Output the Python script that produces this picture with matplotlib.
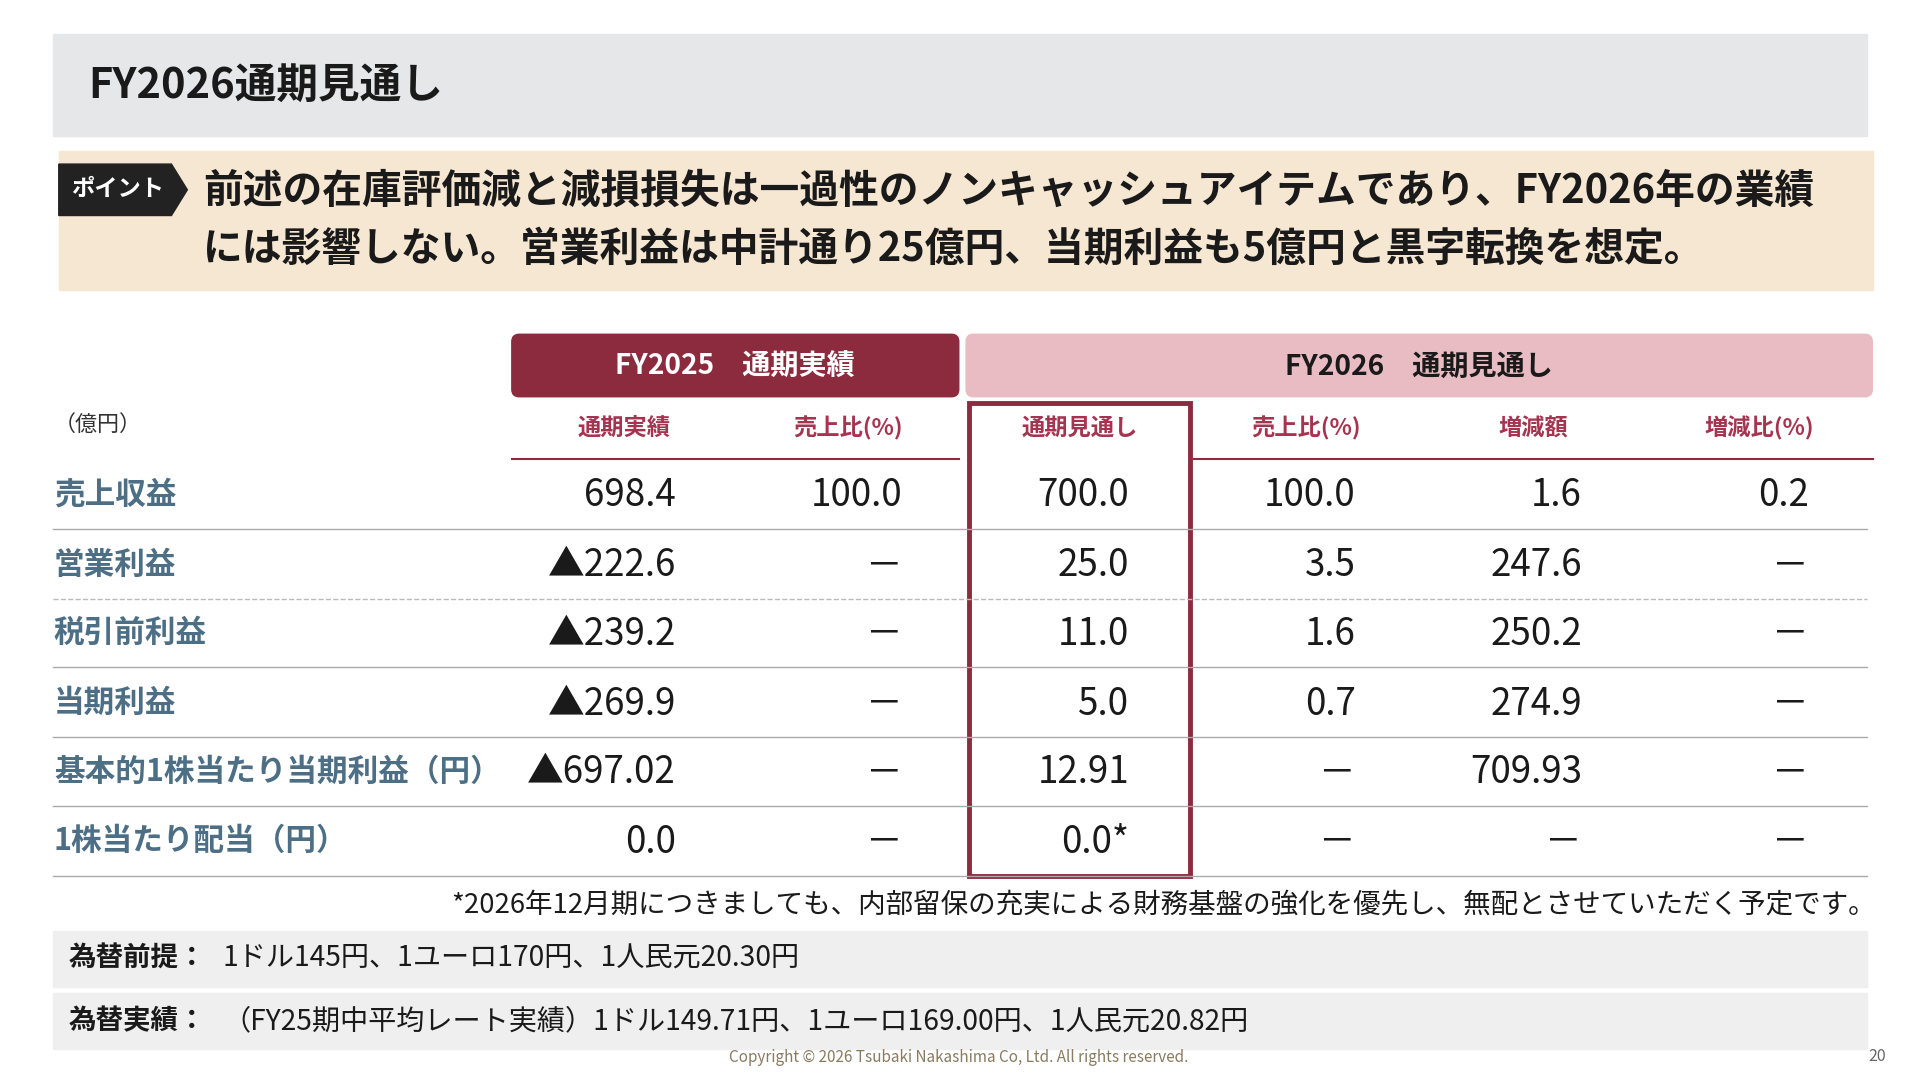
import matplotlib
matplotlib.use("Agg")
import matplotlib.pyplot as plt
from matplotlib.patches import Rectangle, FancyBboxPatch, Polygon

plt.rcParams['font.family'] = ['Noto Sans CJK JP', 'DejaVu Sans']

title = "FY2026通期見通し"
point_lines = ["前述の在庫評価減と減損損失は一過性のノンキャッシュアイテムであり、FY2026年の業績",
               "には影響しない。営業利益は中計通り25億円、当期利益も5億円と黒字転換を想定。"]
group_headers = ["FY2025　通期実績", "FY2026　通期見通し"]
sub_headers = ["通期実績", "売上比(%)", "通期見通し", "売上比(%)", "増減額", "増減比(%)"]
row_labels = ["売上収益", "営業利益", "税引前利益", "当期利益", "基本的1株当たり当期利益（円）", "1株当たり配当（円）"]
fy25_actual = ["698.4", "▲222.6", "▲239.2", "▲269.9", "▲697.02", "0.0"]
fy25_ratio = ["100.0", "－", "－", "－", "－", "－"]
fy26_plan = ["700.0", "25.0", "11.0", "5.0", "12.91", "0.0*"]
fy26_ratio = ["100.0", "3.5", "1.6", "0.7", "－", "－"]
change_amt = ["1.6", "247.6", "250.2", "274.9", "709.93", "－"]
change_pct = ["0.2", "－", "－", "－", "－", "－"]
footnote = "*2026年12月期につきましても、内部留保の充実による財務基盤の強化を優先し、無配とさせていただく予定です。"
fx1 = ("為替前提：", "1ドル145円、1ユーロ170円、1人民元20.30円")
fx2 = ("為替実績：", "（FY25期中平均レート実績）1ドル149.71円、1ユーロ169.00円、1人民元20.82円")
copyright_txt = "Copyright © 2026 Tsubaki Nakashima Co, Ltd. All rights reserved."
page_no = "20"

W, H = 1568, 882
fig = plt.figure(figsize=(19.2, 10.8), dpi=100)
ax = fig.add_axes([0, 0, 1, 1])
ax.set_xlim(0, W); ax.set_ylim(H, 0); ax.axis('off')
S = 1920 / W * 0.72
def fs(px): return px * S

DARK = "#8C2A3E"; PINK = "#E8BCC2"; TEAL = "#4D6F86"; RED = "#A63450"; TXT = "#1a1a1a"

ax.add_patch(Rectangle((43, 28), 1482, 83, color="#E6E7E8"))
ax.text(72, 70, title, fontsize=fs(34), va='center', color=TXT, fontweight='bold')

ax.add_patch(Rectangle((48, 123), 1482, 114, color="#F6E7D2"))
ax.add_patch(Polygon([(48, 134), (140, 134), (153, 155), (140, 176), (48, 176)], color="#222222"))
ax.text(96, 155, "ポイント", fontsize=fs(19), color="white", va='center', ha='center', fontweight='bold')
ax.text(166, 156, point_lines[0], fontsize=fs(32.5), va='center', color=TXT, fontweight='bold')
ax.text(166, 204, point_lines[1], fontsize=fs(32.5), va='center', color=TXT, fontweight='bold')

ax.add_patch(FancyBboxPatch((418, 273), 365, 51, boxstyle="round,pad=0,rounding_size=6", color=DARK))
ax.add_patch(FancyBboxPatch((789, 273), 740, 51, boxstyle="round,pad=0,rounding_size=6", color=PINK))
ax.text(600, 300, group_headers[0], fontsize=fs(23), ha='center', va='center', color='white', fontweight='bold')
ax.text(1159, 300, group_headers[1], fontsize=fs(23), ha='center', va='center', color=TXT, fontweight='bold')

ax.text(44, 347, "（億円）", fontsize=fs(18), va='center', color="#333333")
sub_x = [510, 693, 882, 1067, 1252, 1437]
for x, s in zip(sub_x, sub_headers):
    ax.text(x, 350, s, fontsize=fs(19), ha='center', va='center', color=RED, fontweight='bold')
ax.plot([418, 783], [375, 375], color=DARK, lw=1.5)
ax.plot([975, 1530], [375, 375], color=DARK, lw=1.5)

row_y = [404, 461, 517, 574, 630, 687]
right_x = [552, 737, 922, 1107, 1292, 1477]
cols = [fy25_actual, fy25_ratio, fy26_plan, fy26_ratio, change_amt, change_pct]
for i, y in enumerate(row_y):
    ax.text(44, y, row_labels[i], fontsize=fs(25), va='center', color=TEAL, fontweight='bold')
    for x, c in zip(right_x, cols):
        ax.text(x, y + 1, c[i], fontsize=fs(30), ha='right', va='center', color=TXT)
    yl = y + 28
    ls = '--' if i == 1 else '-'
    ax.plot([43, 1525], [yl, yl], color="#BBBBBB" if ls == '--' else "#AAAAAA", lw=1, ls=ls)

ax.add_patch(Rectangle((791, 329), 181, 386, fill=False, ec=DARK, lw=3.5))

ax.text(1532, 740, footnote, fontsize=fs(22.5), ha='right', va='center', color=TXT)
for y0, (a, b) in [(760, fx1), (811, fx2)]:
    ax.add_patch(Rectangle((43, y0), 1482, 46, color="#EFEFEF"))
    ax.text(56, y0 + 23, a, fontsize=fs(22.5), va='center', color=TXT, fontweight='bold')
    ax.text(182, y0 + 23, b, fontsize=fs(23), va='center', color=TXT)
ax.text(783, 864, copyright_txt, fontsize=fs(12.5), ha='center', va='center', color="#8a7a60")
ax.text(1540, 863, page_no, fontsize=fs(13), ha='right', va='center', color="#666666")

fig.savefig("out.png", dpi=100, facecolor='white')
